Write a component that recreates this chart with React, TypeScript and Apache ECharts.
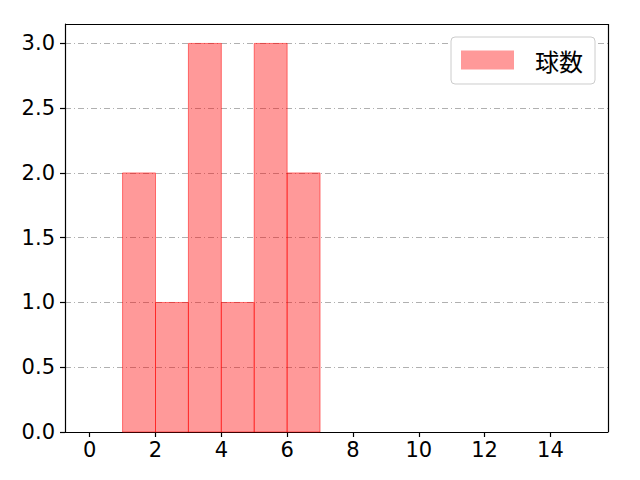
import { useEffect, useRef } from 'react';
import * as echarts from 'echarts';

const binStarts = [1, 2, 3, 4, 5, 6];
const binEnds = [2, 3, 4, 5, 6, 7];
const counts = [2, 1, 3, 1, 3, 2];
const xTicks = [0, 2, 4, 6, 8, 10, 12, 14];
const yTicks = [0, 0.5, 1.0, 1.5, 2.0, 2.5, 3.0];
const seriesName = '球数';

const FONT = "'Noto Sans CJK JP', 'DejaVu Sans', sans-serif";
const TICK_FONT = "'DejaVu Sans', sans-serif";

export default function App() {
  const chartRef = useRef<HTMLDivElement>(null);

  useEffect(() => {
    if (!chartRef.current) return;
    const chart = echarts.init(chartRef.current, null, { renderer: 'svg' });
    const data = binStarts.map((s, i) => [s, binEnds[i], counts[i]]);

    chart.setOption({
      animation: false,
      textStyle: { fontFamily: FONT },
      grid: { left: 65, right: 32, top: 24, bottom: 48, containLabel: false },
      legend: {
        data: [{ name: seriesName, icon: 'rect' }],
        right: 45,
        top: 37,
        orient: 'vertical',
        itemWidth: 53,
        itemHeight: 19,
        padding: [11, 12, 12, 10],
        borderColor: '#cccccc',
        borderWidth: 1,
        borderRadius: 4,
        backgroundColor: '#ffffff',
        textStyle: { fontSize: 24, color: '#000', fontFamily: FONT, padding: [0, 0, 0, 16] },
      },
      xAxis: {
        type: 'value',
        min: -0.75,
        max: 15.75,
        axisLine: { show: true, onZero: false, lineStyle: { color: '#000', width: 1.2 } },
        axisTick: { show: true, length: 5, customValues: xTicks, lineStyle: { color: '#000', width: 1.2 } },
        axisLabel: { customValues: xTicks, fontSize: 21, color: '#000', margin: 7, fontFamily: TICK_FONT },
        splitLine: { show: false },
      },
      yAxis: {
        type: 'value',
        min: 0,
        max: 3.15,
        axisLine: { show: true, onZero: false, lineStyle: { color: '#000', width: 1.2 } },
        axisTick: { show: true, length: 5, customValues: yTicks, lineStyle: { color: '#000', width: 1.2 } },
        axisLabel: {
          customValues: yTicks,
          fontSize: 21,
          color: '#000',
          margin: 10,
          fontFamily: TICK_FONT,
          formatter: (v: number) => v.toFixed(1),
        },
        splitLine: {
          show: true,
          lineStyle: { color: '#b0b0b0', width: 1, type: [6, 3, 1, 3] },
        },
      },
      series: [
        {
          name: seriesName,
          type: 'custom',
          itemStyle: { color: 'rgba(255,0,0,0.4)', borderColor: 'rgba(255,0,0,0.5)' },
          renderItem: (params: any, api: any) => {
            const p0 = api.coord([api.value(0), api.value(2)]);
            const p1 = api.coord([api.value(1), 0]);
            return {
              type: 'rect',
              shape: { x: p0[0], y: p0[1], width: p1[0] - p0[0], height: p1[1] - p0[1] },
              style: { fill: 'rgba(255,0,0,0.4)', stroke: 'rgba(255,0,0,0.5)', lineWidth: 1 },
            };
          },
          encode: { x: [0, 1], y: 2 },
          data,
        },
        {
          type: 'line',
          data: [],
          markLine: {
            silent: true,
            symbol: 'none',
            label: { show: false },
            lineStyle: { color: '#000', width: 1.2, type: 'solid' },
            data: [[{ coord: [15.75, 0] }, { coord: [15.75, 3.15] }], [{ coord: [-0.75, 3.15] }, { coord: [15.75, 3.15] }]],
          },
        },
      ],
    });

    return () => {
      chart.dispose();
    };
  }, []);

  return <div ref={chartRef} style={{ width: 640, height: 480, margin: -8 }} />;
}
